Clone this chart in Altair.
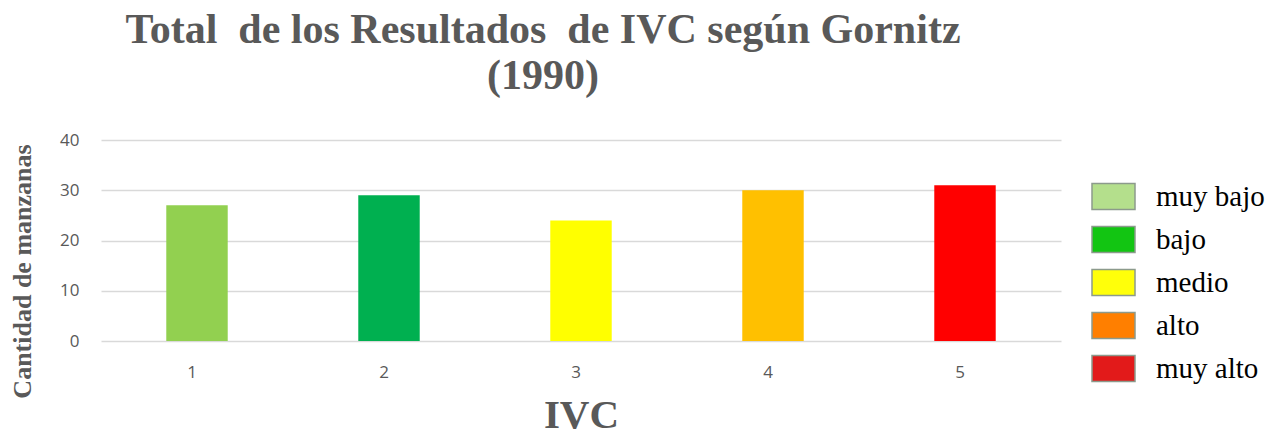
import altair as alt
import pandas as pd

ivc = ["1", "2", "3", "4", "5"]
valores = [27, 29, 24, 30, 31]
colores_barras = ["#92D050", "#00B050", "#FFFF00", "#FFC000", "#FF0000"]
leyenda = ["muy bajo", "bajo", "medio", "alto", "muy alto"]
colores_leyenda = ["#B4DF8C", "#12C512", "#FFFF0A", "#FF7F00", "#E21A1A"]
ticks_y = [0, 10, 20, 30, 40]

df = pd.DataFrame({"IVC": ivc, "valor": valores, "nivel": leyenda})

gris = "#595959"

x_enc = alt.X(
    "IVC:N",
    sort=ivc,
    scale=alt.Scale(paddingInner=0.68, paddingOuter=0.34),
    axis=alt.Axis(
        title="IVC",
        titleFont="Liberation Serif",
        titleFontSize=41,
        titleFontWeight="bold",
        titleColor=gris,
        titlePadding=15,
        labelAngle=0,
        labelFont="Open Sans",
        labelFontSize=17,
        labelColor=gris,
        labelPadding=31,
        domain=False,
        ticks=False,
        grid=False,
    ),
)

barras = alt.Chart(df).mark_bar().encode(
    x=x_enc,
    y=alt.Y(
        "valor:Q",
        scale=alt.Scale(domain=[0, 40]),
        axis=alt.Axis(
            values=ticks_y,
            title="Cantidad de manzanas",
            titleFont="Liberation Serif",
            titleFontSize=26,
            titleFontWeight="bold",
            titleColor=gris,
            titleAngle=270,
            titleAlign="center",
            titleBaseline="alphabetic",
            titleX=-71,
            titleY=131,
            labelFont="Open Sans",
            labelFontSize=17,
            labelColor=gris,
            labelPadding=22,
            domain=False,
            ticks=False,
            grid=True,
            gridColor="#D9D9D9",
            gridWidth=1.5,
        ),
    ),
    color=alt.Color(
        "IVC:N",
        scale=alt.Scale(domain=ivc, range=colores_barras),
        legend=None,
    ),
)

capa_leyenda = alt.Chart(df).mark_bar().encode(
    x=alt.X("IVC:N", sort=ivc),
    y=alt.datum(0),
    color=alt.Color(
        "nivel:N",
        sort=leyenda,
        scale=alt.Scale(domain=leyenda, range=colores_leyenda),
        legend=alt.Legend(
            title=None,
            orient="none",
            legendX=990,
            legendY=34,
            symbolType="M-1,-0.605H1V0.605H-1Z",
            symbolSize=1849,
            symbolStrokeColor="#8C9A8C",
            symbolStrokeWidth=1.5,
            labelFont="Liberation Serif",
            labelFontSize=29,
            labelColor="#000000",
            labelOffset=20,
            rowPadding=4,
            labelLimit=300,
        ),
    ),
)

chart = (
    alt.layer(capa_leyenda, barras)
    .resolve_scale(color="independent")
    .properties(
        width=960,
        height=201,
        autosize=alt.AutoSizeParams(type="none"),
        padding={"left": 93, "top": 132, "right": 219, "bottom": 89},
        title=alt.TitleParams(
            text=["Total\u00a0 de los Resultados\u00a0 de IVC según Gornitz", "(1990)"],
            font="Liberation Serif",
            fontSize=42,
            fontWeight="bold",
            color=gris,
            anchor="middle",
            frame="group",
            dx=-38,
            lineHeight=46,
            offset=33,
        ),
    )
    .configure_view(stroke=None)
)

chart.save("out.html", embed_options={"renderer": "svg", "actions": False})
